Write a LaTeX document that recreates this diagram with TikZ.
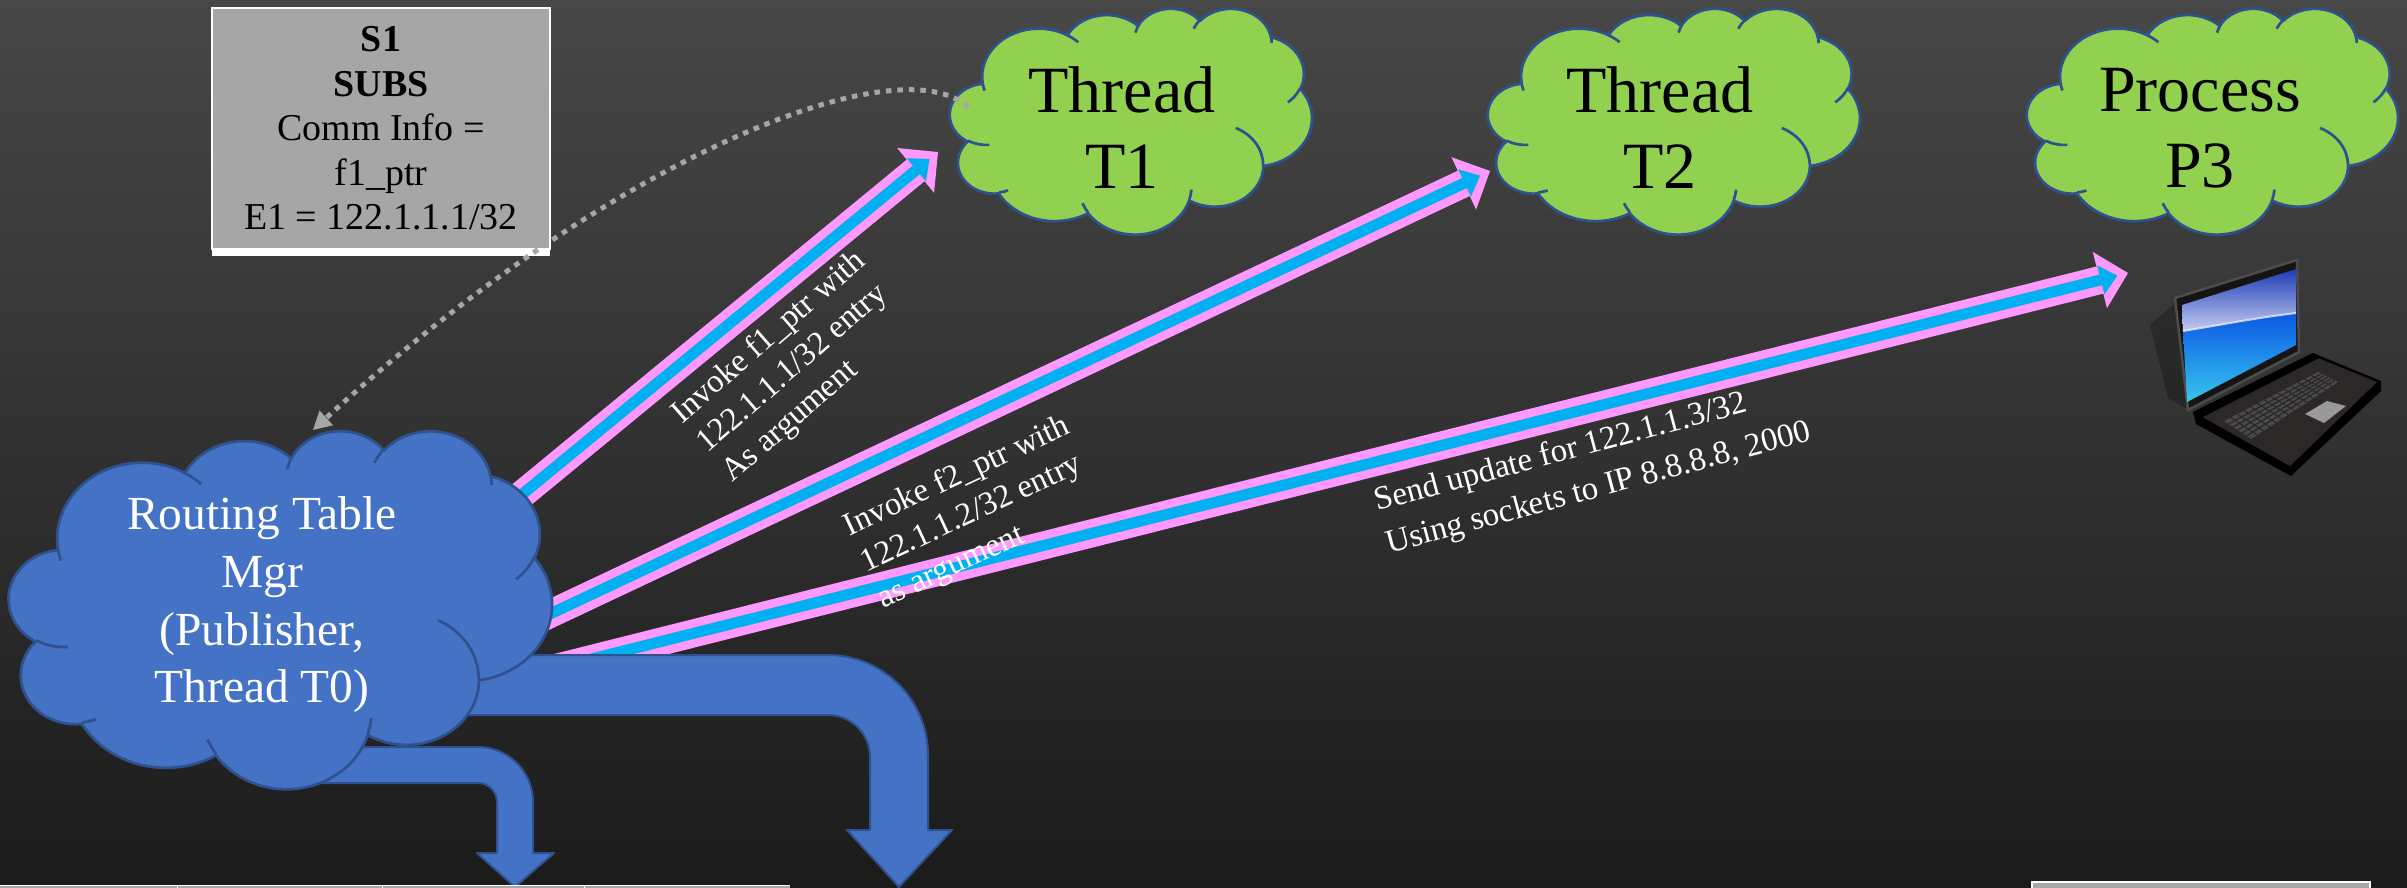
\documentclass[tikz,border=0pt]{standalone}
\usepackage{fontspec}
\setmainfont{Liberation Serif}
\usetikzlibrary{arrows.meta,calc}

\definecolor{cloudgreen}{HTML}{92D050}
\definecolor{cloudblue}{HTML}{4472C4}
\definecolor{cloudedge}{HTML}{2F528F}
\definecolor{pinkline}{HTML}{FF99FF}
\definecolor{cyanline}{HTML}{00B0F0}
\definecolor{boxgray}{HTML}{A6A6A6}
\definecolor{bgtop}{HTML}{474747}
\definecolor{bgbottom}{HTML}{1B1B1B}
\definecolor{lapdeck}{HTML}{2C2828}
\definecolor{lapkeys}{HTML}{4A4848}
\definecolor{scrtop}{HTML}{1E3CB4}
\definecolor{scrlight}{HTML}{C4CCF2}
\definecolor{scrmid}{HTML}{0A58E4}
\definecolor{scrcyan}{HTML}{38C6EE}

% one arc of the cloud outline; the angles are visual angles on the ellipse
\newcommand\cldarc[4]{arc[x radius=#1, y radius=#2,
  start angle={atan2((#1)*sin(#3),(#2)*cos(#3))},
  delta angle={mod(atan2((#1)*sin((#3)+(#4)),(#2)*cos((#3)+(#4)))-atan2((#1)*sin(#3),(#2)*cos(#3))+720,360)}]}

% cloud: left, top, width, height, fill colour
\newcommand\pptcloud[5]{%
  \begin{scope}[shift={(#1,#2)}, x={(#3/4320,0)}, y={(0,#4/4320)}]
    \filldraw[fill=#5, cloudline]
      (390,1437)
      \cldarc{675.3}{919.0}{-190.487}{123.781}
      \cldarc{533.3}{726.7}{-144.102}{89.945}
      \cldarc{436.5}{594.5}{-145.808}{99.723}
      \cldarc{485.7}{659.5}{-130.986}{117.242}
      \cldarc{533.3}{727.3}{-78.709}{109.027}
      \cldarc{677.5}{922.0}{-46.267}{130.269}
      \cldarc{578.5}{786.7}{0.625}{114.033}
      \cldarc{675.2}{921.5}{22.452}{115.173}
      \cldarc{772.0}{1054.3}{66.243}{75.711}
      \cldarc{436.0}{591.8}{-274.942}{146.736}
      \cldarc{434.5}{594.5}{-246.829}{152.519}
      -- cycle;
    \draw[cloudline]
      (469.3,2617.7) \cldarc{434.5}{594.5}{86.742}{26.430}
      (692.8,3489.9) \cldarc{436.0}{591.8}{73.610}{11.447}
      (1647.8,3909.0) \cldarc{675.2}{921.5}{137.624}{14.081}
      (2882.7,3475.1) \cldarc{675.2}{921.5}{6.453}{15.998}
      (3412.9,2295.4) \cldarc{578.5}{786.7}{-70.292}{70.917}
      (4179.8,1535.4) \cldarc{533.3}{727.3}{30.318}{27.752}
      (3832.4,542.6) \cldarc{485.7}{659.5}{-13.744}{14.860}
      (2907.8,395.2) \cldarc{485.7}{659.5}{-149.181}{18.195}
      (2214.1,472.0) \cldarc{436.5}{594.5}{-163.494}{17.686}
      (1400.0,519.2) \cldarc{675.3}{919.0}{-66.707}{12.319}
      (412.7,1578.9) \cldarc{675.3}{919.0}{157.654}{11.858};
  \end{scope}}

\tikzset{
  cloudline/.style={draw=cloudedge, line width=0.27mm, line join=round},
  pinkshaft/.style={draw=pinkline, line width=2.8mm,
    -{Triangle[length=2.9mm,width=5.8mm,line width=0pt]}},
  cyanshaft/.style={draw=cyanline, line width=1.1mm, shorten >=1.1mm,
    -{Triangle[length=1.7mm,width=3mm,line width=0pt]}},
  bentarrow/.style={fill=cloudblue, draw=cloudedge, line width=0.2mm, line join=round},
  dotlink/.style={draw=boxgray, line width=0.5mm, dash pattern=on 0.55mm off 0.6mm,
    -{Triangle[length=1.8mm,width=2mm,line width=0pt]}},
  cloudtext/.style={inner sep=0pt, align=center, font=\fontsize{18.8pt}{21.6pt}\selectfont},
  armlabel/.style={inner sep=0pt, align=left, text=white, anchor=north west},
}

\begin{document}
\begin{tikzpicture}[x=0.1mm, y=-0.1mm]
  \useasboundingbox (0,0) rectangle (2407,888);
  \shade[top color=bgtop, bottom color=bgbottom] (0,0) rectangle (2407,888);

  % end points of the calls leaving the routing table manager
  \coordinate (mgrA) at (480,529);
  \coordinate (mgrB) at (480,647);
  \coordinate (mgrC) at (480,687);
  \coordinate (tipT1) at (938,152);
  \coordinate (tipT2) at (1490,171);
  \coordinate (tipP3) at (2128,273);

  % double arrows: pink body, cyan core
  \foreach \s/\e in {mgrA/tipT1, mgrB/tipT2, mgrC/tipP3}{
    \draw[pinkshaft] (\s) -- (\e);
    \draw[cyanshaft] (\s) -- (\e);
  }

  % bent block arrows leaving the manager downwards
  \filldraw[bentarrow] (460,655) -- (828,655) arc[start angle=-90, end angle=0, radius=100]
    -- (928,830) -- (952,830) -- (899,887) -- (847,830) -- (870,830) -- (870,757)
    arc[start angle=0, end angle=-90, radius=42] -- (460,715) -- cycle;
  \filldraw[bentarrow] (300,747) -- (478,747) arc[start angle=-90, end angle=0, radius=55]
    -- (533,853) -- (554,853) -- (515,887) -- (477,853) -- (497,853) -- (497,802)
    arc[start angle=0, end angle=-90, radius=19] -- (300,783) -- cycle;

  % clouds
  \pptcloud{9}{430}{543}{358}{cloudblue}
  \pptcloud{950}{8}{362}{226}{cloudgreen}
  \pptcloud{1488}{8}{372}{226}{cloudgreen}
  \pptcloud{2027}{8}{371}{226}{cloudgreen}

  \node[cloudtext, text=white, font=\fontsize{13.5pt}{16.4pt}\selectfont] (mgr) at (262,605)
    {Routing Table\\Mgr\\(Publisher,\\Thread T0)};
  \node[cloudtext] (t1) at (1122,128) {Thread\\T1};
  \node[cloudtext] (t2) at (1660,128) {Thread\\T2};
  \node[cloudtext] (p3) at (2200,128) {Process\\P3};

  % subscription record
  \fill[white] (212,249) rectangle (550,256);
  \node[draw=white, line width=0.2mm, fill=boxgray, minimum width=33.8mm, minimum height=24.1mm,
        inner sep=0pt, align=center, font=\fontsize{10.8pt}{12.66pt}\selectfont] (s1) at (381,128.5)
    {\textbf{S1}\\\textbf{SUBS}\\Comm Info =\\f1\_ptr\\E1 = 122.1.1.1/32};

  % callback pointer back to the publisher
  \coordinate (t1dot) at (968,107);
  \coordinate (mgrtop) at (313,430);
  \draw[dotlink] (t1dot) .. controls (900,45) and (620,150) .. (mgrtop);

  % arrow labels
  \node[armlabel, rotate=41, font=\fontsize{9.3pt}{11pt}\selectfont] (lab1) at (666,407)
    {Invoke f1\_ptr with\\122.1.1.1/32 entry\\As argument};
  \node[armlabel, rotate=25, font=\fontsize{9.3pt}{11.3pt}\selectfont] (lab2) at (839,515)
    {Invoke f2\_ptr with\\122.1.1.2/32 entry\\as argument};
  \node[armlabel, rotate=15, font=\fontsize{9.4pt}{12.5pt}\selectfont] (lab3) at (1371,488)
    {Send update for 122.1.1.3/32\\Using sockets to IP 8.8.8.8, 2000};

  % table edges at the bottom
  \fill[boxgray] (0,885) rectangle (790,892);
  \draw[white, line width=0.1mm] (0,885) -- (790,885);
  \foreach \x in {177,382,584} \draw[white, line width=0.1mm] (\x,885) -- (\x,892);
  \filldraw[fill=boxgray, draw=white, line width=0.2mm] (2032,882) rectangle (2370,900);

  % laptop
  \fill[black, opacity=0.25] (2150,325) -- (2176,302) -- (2189,410) -- (2168,398) -- cycle;
  \filldraw[fill=black!92, draw=black!70, line width=0.25mm, line join=round]
    (2175,298) -- (2297,260) -- (2299,352) -- (2188,410) -- cycle;
  \shade[top color=scrtop, bottom color=scrlight]
    (2182,305) -- (2296,269) -- (2296,313) .. controls (2255,318) and (2220,325) .. (2183,331) -- cycle;
  \shade[top color=scrmid, bottom color=scrcyan]
    (2183,331) .. controls (2220,325) and (2255,318) .. (2296,313) -- (2296,345) -- (2187,402) -- cycle;
  \draw[white, opacity=0.7, line width=0.2mm]
    (2183,331) .. controls (2220,325) and (2255,318) .. (2296,313);
  \fill[black] (2193,412) -- (2313,353) -- (2381,381) -- (2381,391) -- (2291,476) -- (2196,424) -- cycle;
  \fill[lapdeck] (2197,414) -- (2313,356) -- (2377,382) -- (2290,466) -- cycle;
  \fill[black] (2193,412) -- (2313,353) -- (2319,358) -- (2199,419) -- cycle;
  \coordinate (kb1) at (2224,421);
  \coordinate (kb2) at (2318,372);
  \coordinate (kb3) at (2338,382);
  \coordinate (kb4) at (2251,439);
  \fill[lapkeys] (kb1) -- (kb2) -- (kb3) -- (kb4) -- cycle;
  \foreach \k in {1,...,5}
    \draw[black!85, line width=0.12mm] ($(kb1)!\k/6!(kb4)$) -- ($(kb2)!\k/6!(kb3)$);
  \foreach \k in {1,...,13}
    \draw[black!85, line width=0.1mm] ($(kb1)!\k/14!(kb2)$) -- ($(kb4)!\k/14!(kb3)$);
  \fill[black!40] (2305,414) -- (2327,401) -- (2346,406) -- (2324,423) -- cycle;
\end{tikzpicture}
\end{document}
